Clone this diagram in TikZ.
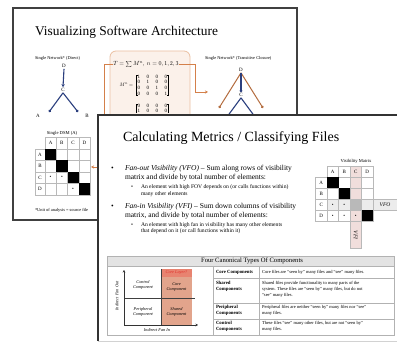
\documentclass[tikz,border=0pt]{standalone}
\usepackage{fontspec}
\usepackage{graphicx}
\setmainfont{Liberation Serif}
\usetikzlibrary{arrows.meta}
\definecolor{navy}{HTML}{2B3F7E}
\definecolor{orng}{HTML}{D4804A}
\definecolor{brownd}{HTML}{8A3A1A}
\definecolor{boxfill}{HTML}{FBF1EA}
\definecolor{boxline}{HTML}{EBC0A2}
\definecolor{salmon}{HTML}{E2A48C}
\definecolor{pinkc}{HTML}{F1DEDC}
\definecolor{redlbl}{HTML}{E0302A}
\newcommand\myfs[2]{\fontsize{#1}{#2}\selectfont}
\newcommand\mgap{\hspace{6.5pt}}
\begin{document}
\begin{tikzpicture}[x=1pt,y=-1pt,
  every node/.style={inner sep=0pt,outer sep=0pt},
  tiny/.style={font=\myfs{4.4}{5}},
  letter/.style={font=\myfs{5}{6},inner sep=1.2pt},
  cellg/.style={draw=gray!55,line width=0.4pt},
  orline/.style={draw=orng,line width=0.9pt},
  brk/.style={draw=black,line width=0.4pt},
  matx/.style={font=\myfs{5}{5.6},align=center,inner xsep=1.5pt},
  bul/.style={font=\myfs{7.5}{9},anchor=west},
  sbul/.style={font=\myfs{5.6}{7},anchor=west},
  tcell/.style={font=\myfs{4.5}{6},anchor=north west,align=left},
  tbold/.style={font=\myfs{4.8}{6}\bfseries,anchor=north west,align=left},
  glbl/.style={font=\myfs{4.3}{5}\itshape,align=center}]
\useasboundingbox (0,0) rectangle (397,344);
\fill[white] (0,0) rectangle (397,344);

% ---------------- back slide ----------------
\draw[fill=white,draw=black!75,line width=1.5pt] (13,8) rectangle (297,220);
\node (t1) [anchor=west,font=\myfs{13.4}{15}] at (35,32) {Visualizing Software Architecture};
\node (sn1) [tiny,anchor=west] at (35,58) {Single Network* (Direct)};
\node (sn2) [tiny,anchor=west] at (205,58) {Single Network* (Transitive Closure)};

% rounded box with formula
\draw[fill=boxfill,draw=boxline,line width=0.8pt,rounded corners=6pt] (110,51) rectangle (190,240);
\node (form) at (146,64.5) {\scalebox{0.6}{$T=\sum M^n,\ n=0,1,2,3$}};
\node (mlab) [anchor=east] at (133,85) {\scalebox{0.5}{$M^n=$}};
\node (mat1) [matx,anchor=west] at (136,85) {1\mgap0\mgap0\mgap0\\0\mgap1\mgap0\mgap0\\0\mgap0\mgap1\mgap0\\0\mgap0\mgap0\mgap1};
\draw[brk] ([xshift=1.5pt]mat1.north west) -- (mat1.north west) -- (mat1.south west) -- ([xshift=1.5pt]mat1.south west);
\draw[brk] ([xshift=-1.5pt]mat1.north east) -- (mat1.north east) -- (mat1.south east) -- ([xshift=-1.5pt]mat1.south east);
\begin{scope}
\clip (110,101) rectangle (190,115);
\node (mat2) [matx,anchor=north west] at (136,104) {0\mgap0\mgap0\mgap0\\1\mgap0\mgap0\mgap0};
\draw[brk] ([xshift=1.5pt]mat2.north west) -- (mat2.north west) -- (mat2.south west);
\draw[brk] ([xshift=-1.5pt]mat2.north east) -- (mat2.north east) -- (mat2.south east);
\end{scope}

% orange connectors
\coordinate (lo1) at (104,64.5);
\coordinate (lo2) at (104,167);
\coordinate (dsmin) at (91,167);
\draw[orline,-{Stealth[length=3pt,width=3pt]}] (form.west) -- (lo1) -- (lo2) -- (dsmin);
\coordinate (ro1) at (195,64.5);
\coordinate (ro2) at (195,92);
\coordinate (tcin) at (208,92);
\draw[orline,-{Stealth[length=3pt,width=3pt]}] (form.east) -- (ro1) -- (ro2) -- (tcin);

% left graph (direct)
\node (gD) [letter] at (64,66) {D};
\node (gC) [letter] at (63,90) {C};
\node (gA) [letter] at (38,116) {A};
\node (gB) [letter] at (87,116) {B};
\coordinate (gAe) at (49,112);
\coordinate (gBe) at (78,112);
\draw[navy,line width=1.1pt,-{Stealth[length=3pt,width=3.5pt]}] (gD.south) -- (gC.north);
\draw[navy,line width=1.1pt,-{Circle[length=2.6pt]}] (gC.south) -- (gAe);
\draw[navy,line width=1.1pt,-{Circle[length=2.6pt]}] (gC.south) -- (gBe);

% right graph (transitive closure)
\node (rD) [letter] at (241,70) {D};
\node (rC) [letter] at (241,95) {C};
\coordinate (rAe) at (219,108);
\coordinate (rBe) at (263,108);
\coordinate (rAe2) at (224,121);
\coordinate (rBe2) at (258,121);
\draw[orng!85!black,line width=1pt,-{Circle[length=2.6pt,fill=brownd]}] (rD.south) -- (rAe);
\draw[orng!85!black,line width=1pt,-{Circle[length=2.6pt,fill=brownd]}] (rD.south) -- (rBe);
\draw[navy,line width=1.1pt,-{Circle[length=2.6pt]}] (rD.south) -- (rC.north);
\draw[navy,line width=1.1pt] (rC.south) -- (rAe2);
\draw[navy,line width=1.1pt] (rC.south) -- (rBe2);

% single DSM
\node (dsmt) [font=\myfs{4.6}{5}] at (62,133) {Single DSM (A)};
\foreach \c [count=\i from 0] in {A,B,C,D} {
  \draw[cellg] (45+11.25*\i,137.5) rectangle (56.25+11.25*\i,149);
  \node (dh\c) [font=\myfs{5}{6}] at (50.6+11.25*\i,143.3) {\c};
  \draw[cellg] (35,149+11.5*\i) rectangle (45,160.5+11.5*\i);
  \node (dr\c) [font=\myfs{5}{6}] at (40,154.8+11.5*\i) {\c};
  \foreach \j in {0,1,2,3} {
    \draw[cellg] (45+11.25*\j,149+11.5*\i) rectangle (56.25+11.25*\j,160.5+11.5*\i);
  }
  \fill[black] (45+11.25*\i,149+11.5*\i) rectangle (56.25+11.25*\i,160.5+11.5*\i);
}
\node (dd1) [font=\myfs{5}{6}] at (50.6,177.8) {•};
\node (dd2) [font=\myfs{5}{6}] at (61.9,177.8) {•};
\node (dd3) [font=\myfs{5}{6}] at (73.1,189.3) {•};
\node (foot) [tiny,anchor=west] at (35,210) {*Unit of analysis = source file};

% ---------------- front slide ----------------
\fill[white] (98,115) rectangle (397,341);
\draw[gray!35,line width=0.8pt] (98,341) -- (397,341);
\draw[black!80,line width=2pt] (98,341) -- (98,115) -- (397,115);

\node (t2) [anchor=west,font=\myfs{14}{16}] at (123,138) {Calculating Metrics / Classifying Files};

\node (b1) [bul] at (111,169) {•};
\node (l1) [bul] at (125,169) {\textit{Fan-out Visibility (VFO)} – Sum along rows of visibility};
\node (l2) [bul] at (125,178) {matrix and divide by total number of elements:};
\node (b2) [sbul] at (131,187) {•};
\node (s1) [sbul] at (141,187) {An element with high FOV depends on (or calls functions within)};
\node (s2) [sbul] at (141,194) {many other elements};
\node (b3) [bul] at (111,207) {•};
\node (l3) [bul] at (125,207) {\textit{Fan-in Visibility (VFI)} – Sum down columns of visibility};
\node (l4) [bul] at (125,216) {matrix, and divide by total number of elements:};
\node (b4) [sbul] at (131,225) {•};
\node (s3) [sbul] at (141,225) {An element with high fan in visibility has many other elements};
\node (s4) [sbul] at (141,231) {that depend on it (or call functions within it)};

% visibility matrix
\node (vmt) [font=\myfs{4.6}{5}] at (356,161) {Visibility Matrix};
\fill[pinkc] (350,166.5) rectangle (361.5,248);
\fill[gray!15] (327,199.5) rectangle (397,210.5);
\fill[gray!55] (350,199.5) rectangle (361.5,210.5);
\foreach \c [count=\i from 0] in {A,B,C,D} {
  \draw[cellg] (327+11.5*\i,166.5) rectangle (338.5+11.5*\i,177.5);
  \node (vh\c) [font=\myfs{5}{6}] at (332.75+11.5*\i,172) {\c};
  \draw[cellg] (315.5,177.5+11*\i) rectangle (327,188.5+11*\i);
  \node (vr\c) [font=\myfs{5}{6}] at (321.25,183+11*\i) {\c};
  \foreach \j in {0,1,2,3} {
    \draw[cellg] (327+11.5*\j,177.5+11*\i) rectangle (338.5+11.5*\j,188.5+11*\i);
  }
}
\fill[black] (327,177.5) rectangle (338.5,188.5);
\fill[black] (338.5,188.5) rectangle (350,199.5);
\fill[black] (361.5,210.5) rectangle (373,221.5);
\draw[cellg] (350,221.5) rectangle (361.5,248);
\draw[cellg] (373,199.5) rectangle (397,210.5);
\node (vd1) [font=\myfs{5}{6}] at (332.75,205) {•};
\node (vd2) [font=\myfs{5}{6}] at (344.25,205) {•};
\node (vd3) [font=\myfs{5}{6}] at (332.75,216) {•};
\node (vd4) [font=\myfs{5}{6}] at (344.25,216) {•};
\node (vd5) [font=\myfs{5}{6}] at (355.75,216) {•};
\node (vfo) [font=\myfs{5.5}{6}\itshape] at (385,205) {VFO};
\node (vfi) [font=\myfs{5.5}{6}\itshape,rotate=-90] at (355.75,235) {VFI};

% table
\fill[gray!22] (107,256) rectangle (394,266);
\draw[gray!60,line width=0.5pt] (107,256) rectangle (394,335);
\draw[gray!60,line width=0.5pt] (107,266) -- (394,266);
\draw[gray!60,line width=0.5pt] (213,266) -- (213,335);
\draw[gray!60,line width=0.5pt] (259,266) -- (259,335);
\foreach \yy in {278,303,319} \draw[gray!60,line width=0.5pt] (213,\yy) -- (394,\yy);
\node (tht) [font=\myfs{6.6}{7}] at (252,261.2) {Four Canonical Types Of Components};

\node (c21) [tbold,anchor=west] at (216,272) {Core Components};
\node (c31) [tcell,anchor=west] at (262,272) {Core files are “seen by” many files and “see” many files.};
\node (c22) [tbold] at (216,281) {Shared\\Components};
\node (c32) [tcell] at (262,281) {Shared files provide functionality to many parts of the\\system. These files are “seen by” many files, but do not\\“see” many files.};
\node (c23) [tbold] at (216,305.5) {Peripheral\\Components};
\node (c33) [tcell] at (262,305.5) {Peripheral files are neither “seen by” many files nor “see”\\many files.};
\node (c24) [tbold] at (216,321.5) {Control\\Components};
\node (c34) [tcell] at (262,321.5) {These files “see” many other files, but are not “seen by”\\many files.};

% quadrant graph
\fill[salmon] (161,269) rectangle (192,325);
\fill[salmon!80!red] (161,269) rectangle (192,277);
\node (corel) [font=\myfs{4.3}{5}\itshape,text=redlbl] at (176.5,273) {Core Layer?};
\draw[black!75,line width=0.6pt] (161,269) -- (161,325);
\draw[black!75,line width=0.6pt] (124,298) -- (195,298);
\coordinate (ax0) at (124,325);
\coordinate (axy) at (124,270);
\coordinate (axx) at (198,325);
\draw[black!80,line width=0.7pt,-{Stealth[length=2.5pt,width=2.5pt]}] (ax0) -- (axy);
\draw[black!80,line width=0.7pt,-{Stealth[length=2.5pt,width=2.5pt]}] (ax0) -- (axx);
\node (q1) [glbl] at (143,285) {Control\\Component};
\node (q2) [glbl] at (176.5,287) {Core\\Component};
\node (q3) [glbl] at (143,312) {Peripheral\\Component};
\node (q4) [glbl] at (176.5,312) {Shared\\Component};
\node (axyl) [glbl,rotate=90] at (117,296) {Indirect Fan Out};
\node (axxl) [glbl] at (157,330) {Indirect Fan In};
\end{tikzpicture}
\end{document}
